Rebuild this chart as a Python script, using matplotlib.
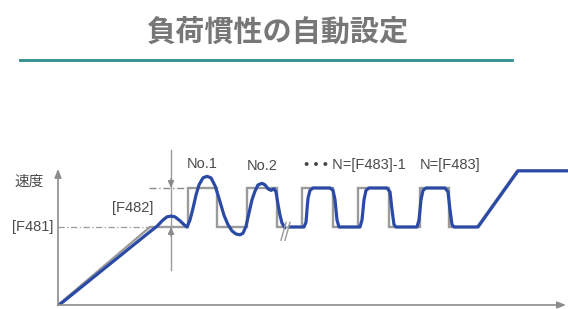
import matplotlib
matplotlib.use("Agg")
import matplotlib.pyplot as plt

# ---------------- data ----------------
title = "負荷慣性の自動設定"
y_label = "速度"
level_labels = ["[F481]", "[F482]"]
pulse_labels = ["No.1", "No.2", "• • • N=[F483]-1", "N=[F483]"]

low_level = 1.0      # [F481]
high_level = 1.5     # [F481]+[F482]
final_level = 1.72

# reference (command) speed, gray
ref_t1 = [0, 92, 130, 130, 159, 159, 189, 189, 219, 219, 227]
ref_v1 = [0, 1.0, 1.0, 1.5, 1.5, 1.0, 1.0, 1.5, 1.5, 1.0, 1.0]
ref_t2 = [232, 244, 244, 275, 275, 300, 300, 331, 331, 362, 362, 391, 391, 419, 459, 510]
ref_v2 = [1.0, 1.0, 1.5, 1.5, 1.0, 1.0, 1.5, 1.5, 1.0, 1.0, 1.5, 1.5, 1.0, 1.0, 1.72, 1.72]

# actual speed response, blue
act_t1 = [0, 2, 5, 92, 99, 105, 109, 113, 117, 122, 126, 129,
          132, 135, 138, 141, 145, 149, 153, 157, 160, 163, 166, 170,
          174, 178, 182, 185, 188, 191, 194, 197, 200, 204, 207, 210,
          213, 216, 218, 220, 222, 224, 227]
act_v1 = [0.0, 0.01, 0.04, 0.94, 1.01, 1.09, 1.13, 1.14, 1.13, 1.08, 1.03, 1.00,
          1.09, 1.24, 1.41, 1.54, 1.63, 1.65, 1.63, 1.53, 1.41, 1.28, 1.15, 1.03,
          0.95, 0.91, 0.90, 0.92, 1.01, 1.18, 1.35, 1.46, 1.54, 1.56, 1.54, 1.49,
          1.47, 1.49, 1.45, 1.29, 1.15, 1.05, 0.99]
act_t2 = [231, 246, 248, 249, 250, 252, 255, 272, 275, 277, 279, 281,
          302, 304, 306, 308, 311, 329, 332, 334, 336, 338,
          359, 361, 363, 365, 368, 387, 390, 392, 394, 396,
          420, 460, 510]
act_v2 = [1.0, 1.0, 1.06, 1.22, 1.37, 1.47, 1.5, 1.5, 1.47, 1.35, 1.09, 1.0,
          1.0, 1.09, 1.35, 1.47, 1.5, 1.5, 1.45, 1.22, 1.03, 1.0,
          1.0, 1.09, 1.35, 1.47, 1.5, 1.5, 1.45, 1.22, 1.03, 1.0,
          1.0, 1.72, 1.72]

# ---------------- figure ----------------
W, H = 568, 309
fig = plt.figure(figsize=(W / 100, H / 100), dpi=100)
fig.patch.set_facecolor("white")

txt_font = ["Liberation Sans Narrow", "Liberation Sans", "Noto Sans CJK JP"]
cjk_font = ["Noto Sans CJK JP", "DejaVu Sans"]

# title + teal rule
fig.text(277.5 / W, 1 - 32 / H, title, ha="center", va="center",
         fontsize=21, fontweight="bold", color="#777777", family=cjk_font)
fig.add_artist(plt.Line2D([20 / W, 512 / W], [1 - 60 / H, 1 - 60 / H],
                          color="#2e8f8c", lw=2.0, transform=fig.transFigure))

# chart axes: t 0..510 spans x px 58..568 ; v 0..2 spans 156 px above y=305
ax = fig.add_axes([58 / W, 4 / H, 510 / W, 156 / H])
ax.set_xlim(0, 510)
ax.set_ylim(0, 2.0)
ax.axis("off")

axis_col = "#8c8c8c"
# axes with arrows
ax.annotate("", xy=(0, 1.745), xytext=(0, -0.005),
            arrowprops=dict(arrowstyle="-|>,head_length=0.5,head_width=0.2",
                            color=axis_col, lw=1.2, shrinkA=0, shrinkB=0),
            annotation_clip=False)
ax.annotate("", xy=(508, 0.0), xytext=(-0.5, 0.0),
            arrowprops=dict(arrowstyle="-|>,head_length=0.5,head_width=0.2",
                            color=axis_col, lw=1.2, shrinkA=0, shrinkB=0),
            annotation_clip=False)

# dash-dot guide lines
dd = (0, (5, 2, 1, 2))
ax.plot([0, 92], [low_level, low_level], color="#9a9a9a", lw=0.9, ls=dd)
ax.plot([91, 130], [high_level, high_level], color="#8a8a8a", lw=1.0, ls=dd)

# vertical [F482] marker line with arrowheads
mx = 113
ax.plot([mx, mx], [1.99, 0.45], color="#9a9a9a", lw=1.0)
ax.annotate("", xy=(mx, high_level), xytext=(mx, high_level + 0.12),
            arrowprops=dict(arrowstyle="-|>,head_length=0.4,head_width=0.18",
                            color="#8a8a8a", lw=1.0, shrinkA=0, shrinkB=0))
ax.annotate("", xy=(mx, low_level), xytext=(mx, low_level - 0.12),
            arrowprops=dict(arrowstyle="-|>,head_length=0.4,head_width=0.18",
                            color="#8a8a8a", lw=1.0, shrinkA=0, shrinkB=0))

# reference (gray)
ref_kw = dict(color="#9b9b9b", lw=1.7, solid_joinstyle="miter")
ax.plot(ref_t1, ref_v1, **ref_kw)
ax.plot(ref_t2, ref_v2, **ref_kw)

# response (blue)
act_kw = dict(color="#2a4aa5", lw=2.3, solid_joinstyle="round", solid_capstyle="round")
ax.plot(act_t1, act_v1, **act_kw)
ax.plot(act_t2, act_v2, **act_kw)

# break marks
ax.plot([223, 228], [0.83, 1.06], color="#9a9a9a", lw=1.0)
ax.plot([227, 232], [0.83, 1.06], color="#9a9a9a", lw=1.0)

# labels
tcol = "#4a4a4a"
ax.text(-29, 1.58, y_label, ha="center", va="center", fontsize=10.5,
        color=tcol, family=cjk_font, clip_on=False)
ax.text(-5, 1.0, level_labels[0], ha="right", va="center", fontsize=10.5,
        color=tcol, family=txt_font, clip_on=False)
ax.text(75, 1.24, level_labels[1], ha="center", va="center", fontsize=10.5,
        color=tcol, family=txt_font)
pulse_pos = [(144, 1.81), (204, 1.78), (297, 1.80), (392, 1.80)]
for s, (px, py) in zip(pulse_labels, pulse_pos):
    ax.text(px, py, s, ha="center", va="center", fontsize=10.5,
            color=tcol, family=txt_font)

fig.savefig("out.png", dpi=100)
